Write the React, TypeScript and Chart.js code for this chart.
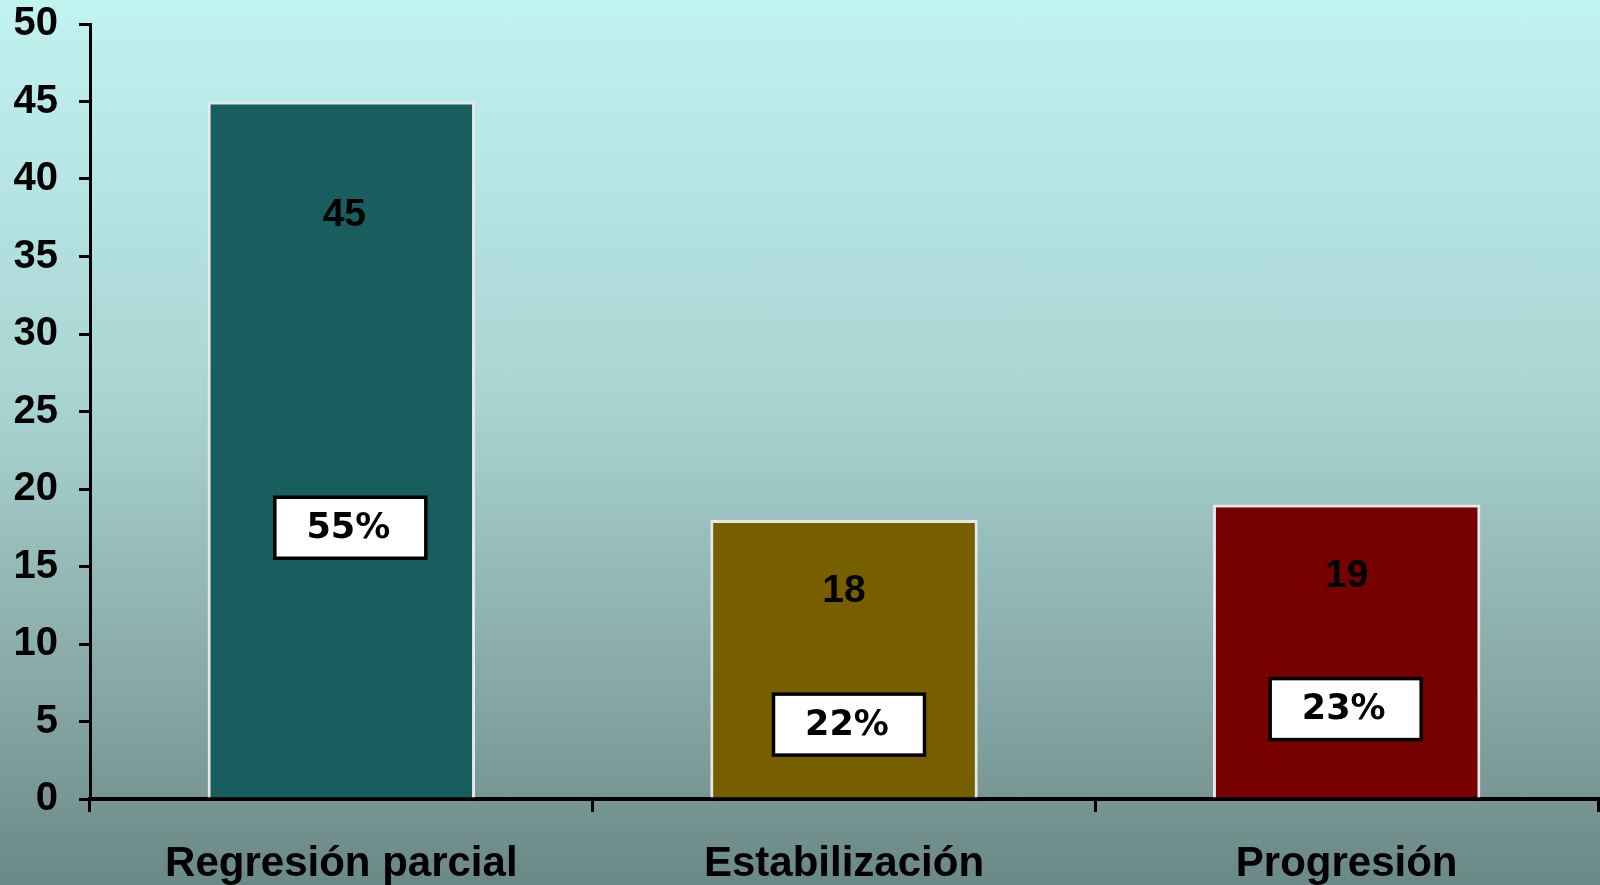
import React, { useEffect, useRef } from "react";
import { Chart, registerables } from "chart.js";

Chart.register(...registerables);

const categories = ["Regresión parcial", "Estabilización", "Progresión"];
const counts = [45, 18, 19];
const percentLabels = ["55%", "22%", "23%"];
const barColors = ["#185E5E", "#775F00", "#770000"];
const yTicksMax = 50;
const yTickStep = 5;

// label placement styles (pixels)
const valueLabelDrop = [114, 71, 72];
const valueLabelShiftX = [3, 0, 0];
const boxCenterValue = [17.5, 4.8, 5.8];
const boxShiftX = [9, 5, -1];

const labelPlugin = {
  id: "boxLabels",
  afterDatasetsDraw(chart: any) {
    const ctx = chart.ctx;
    const meta = chart.getDatasetMeta(0);
    const yScale = chart.scales.y;
    meta.data.forEach((bar: any, i: number) => {
      ctx.save();
      ctx.fillStyle = "#000";
      ctx.textAlign = "center";
      ctx.textBaseline = "middle";
      ctx.font = "bold 39px 'Liberation Sans', Arial, sans-serif";
      ctx.fillText(String(counts[i]), bar.x + valueLabelShiftX[i], bar.y + valueLabelDrop[i]);

      const cx = bar.x + boxShiftX[i];
      const cy = yScale.getPixelForValue(boxCenterValue[i]);
      const w = 151;
      const h = 61;
      ctx.fillStyle = "#fff";
      ctx.fillRect(cx - w / 2, cy - h / 2, w, h);
      ctx.lineWidth = 3.5;
      ctx.strokeStyle = "#000";
      ctx.strokeRect(cx - w / 2, cy - h / 2, w, h);
      ctx.fillStyle = "#000";
      ctx.font = "bold 35px 'DejaVu Sans', sans-serif";
      ctx.fillText(percentLabels[i], cx - 2, cy + 1);
      ctx.restore();
    });
  },
};

export default function App() {
  const ref = useRef<HTMLCanvasElement>(null);
  useEffect(() => {
    document.body.style.margin = "0";
    const chart = new Chart(ref.current!, {
      type: "bar",
      data: {
        labels: categories,
        datasets: [
          {
            data: counts,
            backgroundColor: barColors,
            borderColor: "#E8E8E8",
            borderWidth: 3,
            barPercentage: 0.532,
            categoryPercentage: 1,
          },
        ],
      },
      options: {
        responsive: false,
        animation: false,
        layout: { padding: { top: 24, right: 2, left: 0, bottom: 0 } },
        plugins: { legend: { display: false }, tooltip: { enabled: false } },
        scales: {
          x: {
            grid: {
              drawOnChartArea: false,
              drawTicks: true,
              tickLength: 13,
              color: "#000",
              lineWidth: 3,
            },
            border: { display: true, color: "#000", width: 4 },
            ticks: {
              color: "#000",
              padding: 27,
              font: { family: "'Liberation Sans', Arial, sans-serif", size: 42, weight: "bold" },
            },
            afterFit(scale: any) {
              scale.height = 86;
              scale.paddingLeft = 0;
              scale.paddingRight = 0;
            },
          },
          y: {
            min: 0,
            max: yTicksMax,
            ticks: {
              stepSize: yTickStep,
              color: "#000",
              padding: 21,
              font: { family: "'Liberation Sans', Arial, sans-serif", size: 40, weight: "bold" },
            },
            grid: {
              drawOnChartArea: false,
              drawTicks: true,
              tickLength: 11,
              color: "#000",
              lineWidth: 3,
            },
            border: { display: true, color: "#000", width: 3 },
            afterFit(scale: any) {
              scale.width = 90;
              scale.paddingTop = 0;
              scale.paddingBottom = 0;
            },
          },
        },
      },
      plugins: [labelPlugin],
    } as any);
    return () => chart.destroy();
  }, []);
  return (
    <div
      style={{
        position: "fixed",
        left: 0,
        top: 0,
        width: 1600,
        height: 885,
        background: "linear-gradient(to bottom, #C1F3F1 0%, #A9D4D2 45%, #7E9E9C 85%, #6A8885 100%)",
      }}
    >
      <canvas ref={ref} width={1600} height={885} style={{ display: "block" }} />
    </div>
  );
}
